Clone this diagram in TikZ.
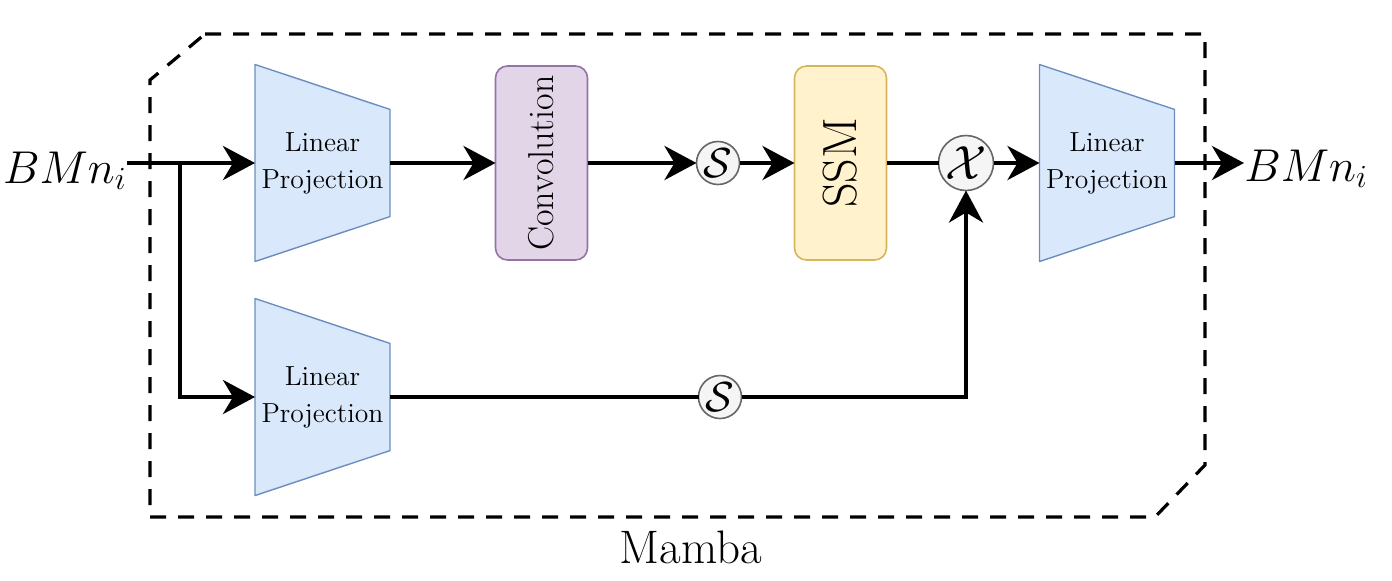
\RequirePackage{fix-cm}
\documentclass[tikz,border=0pt]{standalone}
\usetikzlibrary{arrows.meta,calc,backgrounds}
\definecolor{lpfill}{HTML}{DAE8FC}
\definecolor{lpstroke}{HTML}{6C8EBF}
\definecolor{convfill}{HTML}{E1D5E7}
\definecolor{convstroke}{HTML}{9673A6}
\definecolor{ssmfill}{HTML}{FFF2CC}
\definecolor{ssmstroke}{HTML}{D6B656}
\definecolor{circfill}{HTML}{F5F5F5}
\definecolor{circstroke}{HTML}{666666}
\newcommand\drawtrap[1]{%
  \begin{pgfonlayer}{background}
  \draw[trapz] (#1.north west) -- ($(#1.north east)!0.228!(#1.south east)$)
     -- ($(#1.north east)!0.772!(#1.south east)$) -- (#1.south west) -- cycle;
  \end{pgfonlayer}}
\begin{document}
\begin{tikzpicture}[x=0.5pt,y=-0.5pt,
  lp/.style={draw=none, inner sep=0pt, outer sep=0pt, minimum width=67.5pt,
    minimum height=98.5pt, align=center, font=\fontsize{13.8}{18.5}\selectfont},
  trapz/.style={draw=lpstroke, fill=lpfill, line width=0.7pt, line join=round},
  boxnode/.style={rounded corners=6pt, line width=0.8pt, inner sep=0pt, outer sep=0pt,
    minimum width=46pt, minimum height=97pt},
  convbox/.style={boxnode, draw=convstroke, fill=convfill, font=\fontsize{18}{20}\selectfont},
  ssmbox/.style={boxnode, draw=ssmstroke, fill=ssmfill, font=\fontsize{24}{28}\selectfont},
  circ/.style={circle, draw=circstroke, fill=circfill, line width=0.8pt, inner sep=0pt, outer sep=0pt},
  lbl/.style={inner sep=0pt, font=\fontsize{23}{28}\selectfont},
  plainline/.style={line width=2.2pt},
  flow/.style={plainline, -{Stealth[length=16pt,width=17pt,inset=5pt]}},
  border/.style={line width=1.6pt, dash pattern=on 8pt off 6pt}
]
\useasboundingbox (0,0) rectangle (1392,580);

% outer dashed frame
\draw[border] (205,34) -- (1205,34) -- (1205,465) -- (1155,517) -- (150,517) -- (150,80) -- cycle;
\node[font=\fontsize{23.5}{28}\selectfont, inner sep=0pt] (mamba) at (691,547) {Mamba};

% nodes
\node[lp] (lp1) at (322.5,163) {Linear\\Projection};
\drawtrap{lp1}
\node[lp] (lp2) at (322.5,397) {Linear\\Projection};
\drawtrap{lp2}
\node[lp] (lp3) at (1107,163) {Linear\\Projection};
\drawtrap{lp3}

\node[convbox] (conv) at (541.5,163) {\rotatebox{90}{Convolution}};
\node[ssmbox] (ssm) at (840.5,163) {\rotatebox{90}{SSM}};

\node[circ, minimum size=21.5pt, font=\fontsize{21}{24}\selectfont] (s1) at (718,163) {$\mathcal{S}$};
\node[circ, minimum size=21.5pt, font=\fontsize{21}{24}\selectfont] (s2) at (720,397) {$\mathcal{S}$};
\node[circ, minimum size=27.5pt, font=\fontsize{24}{28}\selectfont] (x) at (966,163) {$\mathcal{X}$};

\node[lbl, anchor=base east] (in) at (127,183) {$BMn_i$};
\node[lbl, anchor=base west] (out) at (1244,181) {$BMn_i$};
\coordinate (br) at (180,163);

% connectors
\draw[flow] (in.east |- lp1.west) -- (lp1.west);
\draw[flow] (br) |- (lp2.west);
\draw[flow] (lp1.east) -- (conv.west);
\draw[flow] (conv.east) -- (s1.west);
\draw[flow] (s1.east) -- (ssm.west);
\draw[plainline] (ssm.east) -- (x.west);
\draw[flow] (x.east) -- (lp3.west);
\draw[flow] (lp3.east) -- (lp3.east -| out.west);
\draw[plainline] (lp2.east) -- (s2.west);
\draw[flow] (s2.east) -| (x.south);
\end{tikzpicture}
\end{document}
